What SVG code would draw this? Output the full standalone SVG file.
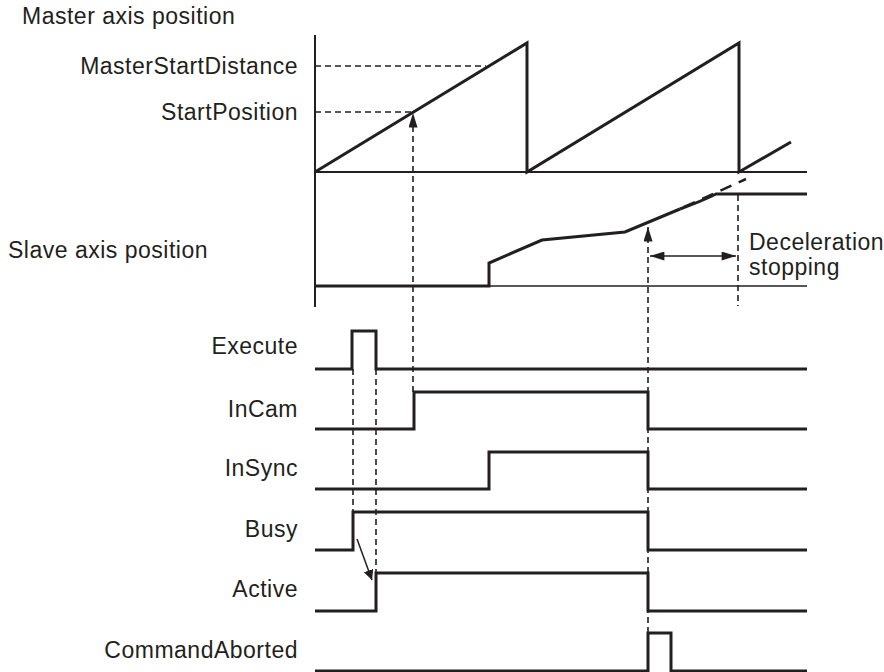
<svg xmlns="http://www.w3.org/2000/svg" width="884" height="672" viewBox="0 0 884 672">
<style>
text{font-family:"Liberation Sans",Arial,sans-serif;font-size:23px;letter-spacing:0.5px;fill:#231f20}
.r{text-anchor:end}
.ax{stroke:#231f20;stroke-width:2;fill:none}
.sig{stroke:#231f20;stroke-width:3;fill:none;stroke-linejoin:miter}
.dash{stroke:#231f20;stroke-width:1.6;fill:none;stroke-dasharray:6 4}
.thin{stroke:#231f20;stroke-width:1.5;fill:none}
</style>
<defs>
<marker id="ah" viewBox="0 0 10 10" refX="10" refY="5" markerWidth="10" markerHeight="10" markerUnits="userSpaceOnUse" orient="auto-start-reverse">
<path d="M0,0 L10,5 L0,10 z" fill="#231f20"/>
</marker>
<marker id="ahL" viewBox="0 0 16 10" refX="16" refY="5" markerWidth="16" markerHeight="9" markerUnits="userSpaceOnUse" orient="auto-start-reverse">
<path d="M0,0 L16,5 L0,10 z" fill="#231f20"/>
</marker>
</defs>
<rect width="884" height="672" fill="#fff"/>

<g id="master">
<text x="22" y="24">Master axis position</text>
<text class="r" x="298" y="74">MasterStartDistance</text>
<text class="r" x="298" y="120">StartPosition</text>
<line class="ax" x1="315" y1="35" x2="315" y2="307"/>
<line class="ax" x1="315" y1="172" x2="807" y2="172"/>
<line class="dash" x1="315" y1="66" x2="486" y2="66"/>
<line class="dash" x1="315" y1="112" x2="412" y2="112"/>
<polyline class="sig" points="315,172 527,43 527,172 739,43 739,172 791,142"/>
</g>

<g id="slave">
<text x="8" y="258">Slave axis position</text>
<line class="thin" x1="315" y1="286" x2="807" y2="286"/>
<polyline class="sig" points="315,286 489,286 489,263 542,240 625,232 680,209"/>
<path class="sig" d="M680,209 Q702,201 716,194 L807,194"/>
<line x1="684" y1="207" x2="746" y2="179" stroke="#231f20" stroke-width="2.5" stroke-dasharray="12 8"/>
<text x="749" y="250">Deceleration</text>
<text x="749" y="275">stopping</text>
</g>

<g id="execute">
<text class="r" x="298" y="354">Execute</text>
<polyline class="sig" points="315,369 352,369 352,331 376,331 376,369 807,369"/>
</g>
<g id="incam">
<text class="r" x="298" y="417">InCam</text>
<polyline class="sig" points="315,429 414,429 414,392 648,392 648,429 807,429"/>
</g>
<g id="insync">
<text class="r" x="298" y="476">InSync</text>
<polyline class="sig" points="315,489 489,489 489,452 648,452 648,489 807,489"/>
</g>
<g id="busy">
<text class="r" x="298" y="537">Busy</text>
<polyline class="sig" points="315,550 353,550 353,512 648,512 648,550 807,550"/>
</g>
<g id="active">
<text class="r" x="298" y="597">Active</text>
<polyline class="sig" points="315,611 376,611 376,573 648,573 648,611 807,611"/>
</g>
<g id="commandaborted">
<text class="r" x="298" y="658">CommandAborted</text>
<polyline class="sig" points="315,671 648,671 648,633 671,633 671,671 807,671"/>
</g>

<g id="connectors">
<line class="dash" x1="413" y1="392" x2="413" y2="113" marker-end="url(#ahL)"/>
<line class="dash" x1="648" y1="633" x2="648" y2="227" marker-end="url(#ahL)"/>
<line class="dash" x1="738" y1="195" x2="738" y2="306"/>
<line class="dash" x1="353" y1="369" x2="353" y2="512"/>
<line class="dash" x1="376" y1="369" x2="376" y2="573"/>
<line class="thin" x1="650" y1="256" x2="736" y2="256" marker-start="url(#ahL)" marker-end="url(#ahL)"/>
<line class="thin" x1="357" y1="539" x2="372" y2="580" marker-end="url(#ah)"/>
</g>
</svg>
